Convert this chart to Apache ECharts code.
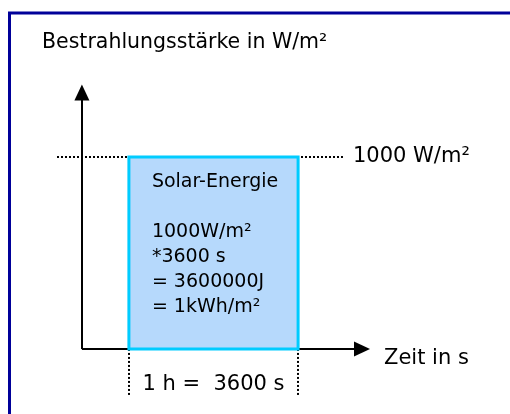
<!DOCTYPE html>
<html>
<head>
<meta charset="utf-8">
<script src="https://cdn.jsdelivr.net/npm/echarts@6/dist/echarts.min.js"></script>
<style>
html,body{margin:0;padding:0;background:#fff;}
#chart{width:510px;height:414px;}
</style>
</head>
<body>
<div id="chart"></div>
<script>
// ---- data ----
const titleText = 'Bestrahlungsstärke in W/m²';
const xAxisName = 'Zeit in s';
const levelLabel = '1000 W/m²';
const durationLabel = '1 h =  3600 s';
const boxLines = ['Solar-Energie', '', '1000W/m²', '*3600 s', '= 3600000J', '= 1kWh/m²'];
const timeStart = [1000];      // s
const timeEnd = [4600];        // s  (1 h = 3600 s)
const irradiance = [1000];     // W/m²
const xRange = [-530, 6130];
const yRange = [-240, 1375];
const xArrowEnd = 5960;
const yArrowEnd = 1336;
const levelLineEnd = 5555;

const FONT = 'DejaVu Sans';
const chart = echarts.init(document.getElementById('chart'), null, {renderer: 'canvas'});

const boxData = timeStart.map((s, i) => [s, timeEnd[i], irradiance[i]]);

const option = {
  animation: false,
  backgroundColor: '#fff',
  title: {
    text: titleText,
    left: 37, top: 27,
    textStyle: {fontFamily: FONT, fontSize: 20.5, fontWeight: 'normal', color: '#000'}
  },
  graphic: [{
    type: 'rect', silent: true, z: 100,
    shape: {x: 9.5, y: 13, width: 600, height: 500},
    style: {fill: null, stroke: '#000099', lineWidth: 3}
  }],
  grid: {left: 57, right: 140, top: 85, bottom: 19},
  xAxis: {type: 'value', min: xRange[0], max: xRange[1], show: false},
  yAxis: {type: 'value', min: yRange[0], max: yRange[1], show: false},
  series: [
    {
      type: 'line', data: [], silent: true,
      markLine: {
        silent: true, animation: false,
        data: [
          [{coord: [0, 0], symbol: 'none'}, {coord: [xArrowEnd, 0], symbol: 'triangle', symbolSize: [15, 16],
            label: {show: true, position: 'end', formatter: '\n' + xAxisName, distance: 22, lineHeight: 19,
              color: '#000', fontFamily: FONT, fontSize: 21}}],
          [{coord: [0, 0], symbol: 'none'}, {coord: [0, yArrowEnd], symbol: 'triangle', symbolSize: [15, 16], label: {show: false}}],
        ],
        lineStyle: {color: '#000', width: 2, type: 'solid'},
        label: {show: false}
      }
    },
    {
      type: 'line', data: [], silent: true,
      markLine: {
        silent: true, animation: false, symbol: 'none',
        lineStyle: {color: '#000', width: 2, type: [2, 2]},
        data: [
          [{coord: [xRange[0], irradiance[0]]}, {coord: [levelLineEnd, irradiance[0]],
            label: {show: true, position: 'end', formatter: levelLabel, distance: 10, color: '#000', fontFamily: FONT, fontSize: 21}}],
          [{coord: [timeStart[0], 0]}, {coord: [timeStart[0], yRange[0]], label: {show: false}}],
          [{coord: [timeEnd[0], 0]}, {coord: [timeEnd[0], yRange[0]], label: {show: false}}]
        ],
        label: {show: false}
      }
    },
    {
      type: 'custom', z: 5, silent: true,
      data: boxData,
      renderItem: function (params, api) {
        const p0 = api.coord([api.value(0), api.value(2)]);
        const p1 = api.coord([api.value(1), 0]);
        return {
          type: 'group',
          children: [
            {type: 'rect', shape: {x: p0[0], y: p0[1], width: p1[0] - p0[0], height: p1[1] - p0[1]},
              style: {fill: '#b6d9fc', stroke: '#00ccff', lineWidth: 3}},
            {type: 'text', x: p0[0] + 23, y: p0[1] + 13,
              style: {text: boxLines.join('\n'), fill: '#000', font: '19px "DejaVu Sans"', lineHeight: 25, align: 'left', verticalAlign: 'top'}},
            {type: 'text', x: (p0[0] + p1[0]) / 2, y: p1[1] + 36,
              style: {text: durationLabel, fill: '#000', font: '21px "DejaVu Sans"', align: 'center', verticalAlign: 'middle'}}
          ]
        };
      }
    }
  ]
};
chart.setOption(option);
</script>
</body>
</html>
